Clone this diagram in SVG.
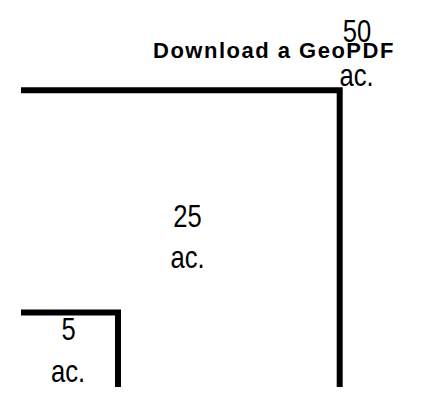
<svg xmlns="http://www.w3.org/2000/svg" width="422" height="409" viewBox="0 0 422 409">
  <style>
    .bnd { fill: none; stroke: #000; stroke-width: 6; stroke-linejoin: miter; stroke-linecap: butt; }
    .lbl { font-family: "Liberation Sans", Arial, sans-serif; font-size: 32px; fill: #000; text-anchor: middle; }
    .title { font-family: "Liberation Sans", Arial, sans-serif; font-size: 22px; font-weight: bold; fill: #000; letter-spacing: 1.5px; }
  </style>
  <rect width="422" height="409" fill="#fff"/>
  <g id="connectors">
    <path class="bnd" d="M21,90.3 H339.7 V387"/>
    <path class="bnd" d="M21,312.5 H118 V387"/>
  </g>
  <g id="title">
    <text class="title" x="153" y="57.5">Download a GeoPDF</text>
  </g>
  <g id="area-50">
    <text class="lbl" transform="translate(357 41.7) scale(0.8 1)">50</text>
    <text class="lbl" transform="translate(356.5 86) scale(0.8 1)">ac.</text>
  </g>
  <g id="area-25">
    <text class="lbl" transform="translate(187.5 226.5) scale(0.8 1)">25</text>
    <text class="lbl" transform="translate(187.5 268) scale(0.8 1)">ac.</text>
  </g>
  <g id="area-5">
    <text class="lbl" transform="translate(68.5 340) scale(0.8 1)">5</text>
    <text class="lbl" transform="translate(68 382) scale(0.8 1)">ac.</text>
  </g>
</svg>
